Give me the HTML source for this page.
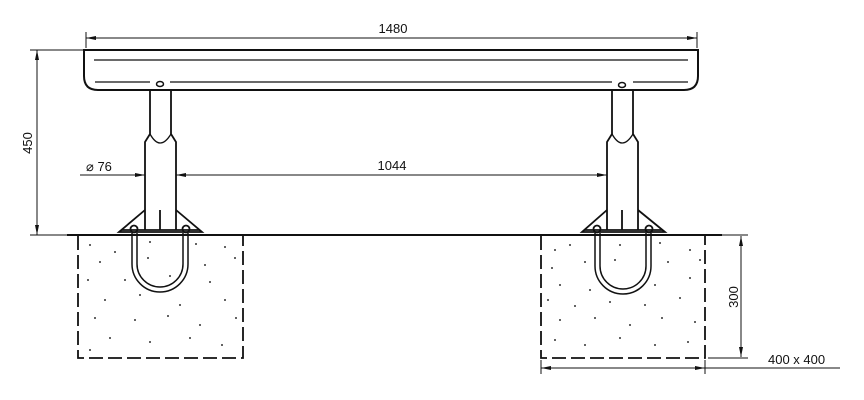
<!DOCTYPE html>
<html><head><meta charset="utf-8"><style>html,body{margin:0;padding:0;background:#fff}svg{display:block}</style></head>
<body>
<svg width="864" height="400" viewBox="0 0 864 400" xmlns="http://www.w3.org/2000/svg" font-family="Liberation Sans, sans-serif" fill="none" stroke="#111">
<defs>
<marker id="a" viewBox="0 0 10 4" refX="10" refY="2" markerWidth="10" markerHeight="4" orient="auto-start-reverse" markerUnits="userSpaceOnUse"><path d="M0,0 L10,2 L0,4z" fill="#111" stroke="none"/></marker>
</defs>
<path d="M84,50 H698 V76 Q698,90 684,90 H98 Q84,90 84,76 Z" stroke-width="2"/>
<line x1="94" y1="60" x2="688" y2="60" stroke-width="1.2"/>
<line x1="95" y1="82" x2="150" y2="82" stroke-width="1.2"/><line x1="170" y1="82" x2="612" y2="82" stroke-width="1.2"/><line x1="633" y1="82" x2="688" y2="82" stroke-width="1.2"/>
<ellipse cx="160" cy="84" rx="3.5" ry="2.5" stroke-width="1.5"/>
<ellipse cx="622" cy="85" rx="3.5" ry="2.5" stroke-width="1.5"/>
<line x1="86" y1="32" x2="86" y2="48" stroke-width="1"/><line x1="697" y1="32" x2="697" y2="48" stroke-width="1"/>
<line x1="86" y1="38" x2="697" y2="38" stroke-width="1" marker-start="url(#a)" marker-end="url(#a)"/>
<text x="393" y="33" font-size="13" fill="#111" stroke="none" text-anchor="middle">1480</text>
<g stroke-width="1.8">
<path d="M150,90 V134 L145,142 V230 M171,90 V134 L176,142 V230"/>
<path d="M150,134 Q160,152 171,134" stroke-width="1.3"/>
<line x1="160" y1="210" x2="160" y2="230"/>
<path d="M612,90 V134 L607,142 V230 M633,90 V134 L638,142 V230"/>
<path d="M612,134 Q622,152 633,134" stroke-width="1.3"/>
<line x1="622" y1="210" x2="622" y2="230"/>
<path d="M145,210 L119,232 H202 L176,210"/><line x1="121" y1="230" x2="200" y2="230"/>
<circle cx="134" cy="229" r="3.5"/><circle cx="186" cy="229" r="3.5"/>
<path d="M607,210 L582,232 H665 L638,210"/><line x1="584" y1="230" x2="663" y2="230"/>
<circle cx="597" cy="229" r="3.5"/><circle cx="649" cy="229" r="3.5"/>
</g>
<line x1="67" y1="235" x2="722" y2="235" stroke-width="2"/>
<g stroke-width="1.8" stroke-dasharray="14 5">
<path d="M78,236 V358 H243 V236"/>
<path d="M541,236 V358 H705 V236"/>
</g>
<g stroke-width="1.5">
<path d="M132,233 V264 A28,28 0 0 0 188,264 V233"/><path d="M137,233 V264 A23,23 0 0 0 183,264 V233"/>
<path d="M595,233 V266 A28,28 0 0 0 651,266 V233"/><path d="M600,233 V266 A23,23 0 0 0 646,266 V233"/>
</g>
<g fill="#333" stroke="none">
<circle cx="90" cy="245" r="1"/><circle cx="115" cy="252" r="1"/><circle cx="150" cy="242" r="1"/><circle cx="196" cy="244" r="1"/><circle cx="225" cy="247" r="1"/>
<circle cx="100" cy="262" r="1"/><circle cx="148" cy="258" r="1"/><circle cx="205" cy="265" r="1"/><circle cx="235" cy="258" r="1"/>
<circle cx="88" cy="280" r="1"/><circle cx="125" cy="280" r="1"/><circle cx="170" cy="276" r="1"/><circle cx="210" cy="282" r="1"/>
<circle cx="105" cy="300" r="1"/><circle cx="140" cy="295" r="1"/><circle cx="180" cy="305" r="1"/><circle cx="225" cy="300" r="1"/>
<circle cx="95" cy="318" r="1"/><circle cx="135" cy="320" r="1"/><circle cx="168" cy="316" r="1"/><circle cx="200" cy="325" r="1"/><circle cx="236" cy="318" r="1"/>
<circle cx="110" cy="338" r="1"/><circle cx="150" cy="342" r="1"/><circle cx="190" cy="338" r="1"/><circle cx="222" cy="345" r="1"/><circle cx="90" cy="350" r="1"/>
<circle cx="555" cy="250" r="1"/><circle cx="570" cy="245" r="1"/><circle cx="620" cy="245" r="1"/><circle cx="660" cy="243" r="1"/><circle cx="690" cy="250" r="1"/>
<circle cx="552" cy="268" r="1"/><circle cx="585" cy="262" r="1"/><circle cx="615" cy="260" r="1"/><circle cx="668" cy="262" r="1"/><circle cx="700" cy="260" r="1"/>
<circle cx="560" cy="285" r="1"/><circle cx="590" cy="290" r="1"/><circle cx="655" cy="285" r="1"/><circle cx="690" cy="278" r="1"/>
<circle cx="548" cy="300" r="1"/><circle cx="575" cy="306" r="1"/><circle cx="610" cy="302" r="1"/><circle cx="645" cy="305" r="1"/><circle cx="680" cy="298" r="1"/>
<circle cx="560" cy="320" r="1"/><circle cx="595" cy="318" r="1"/><circle cx="630" cy="325" r="1"/><circle cx="662" cy="318" r="1"/><circle cx="695" cy="322" r="1"/>
<circle cx="555" cy="340" r="1"/><circle cx="585" cy="345" r="1"/><circle cx="620" cy="338" r="1"/><circle cx="655" cy="345" r="1"/><circle cx="688" cy="342" r="1"/>
</g>
<line x1="30" y1="50" x2="84" y2="50" stroke-width="1"/><line x1="30" y1="235" x2="67" y2="235" stroke-width="1"/>
<line x1="37" y1="50" x2="37" y2="235" stroke-width="1" marker-start="url(#a)" marker-end="url(#a)"/>
<text transform="translate(32,143) rotate(-90)" font-size="13" fill="#111" stroke="none" text-anchor="middle">450</text>
<line x1="80" y1="175" x2="145" y2="175" stroke-width="1" marker-end="url(#a)"/>
<line x1="176" y1="175" x2="607" y2="175" stroke-width="1" marker-start="url(#a)" marker-end="url(#a)"/>
<text x="86" y="171" font-size="13" fill="#111" stroke="none">⌀ 76</text>
<text x="392" y="170" font-size="13" fill="#111" stroke="none" text-anchor="middle">1044</text>
<line x1="708" y1="235" x2="748" y2="235" stroke-width="1"/><line x1="708" y1="358" x2="748" y2="358" stroke-width="1"/>
<line x1="741" y1="236" x2="741" y2="357" stroke-width="1" marker-start="url(#a)" marker-end="url(#a)"/>
<text transform="translate(738,297) rotate(-90)" font-size="13" fill="#111" stroke="none" text-anchor="middle">300</text>
<line x1="541" y1="360" x2="541" y2="374" stroke-width="1"/><line x1="705" y1="360" x2="705" y2="374" stroke-width="1"/>
<line x1="541" y1="368" x2="705" y2="368" stroke-width="1" marker-start="url(#a)" marker-end="url(#a)"/>
<line x1="705" y1="368" x2="840" y2="368" stroke-width="1"/>
<text x="768" y="364" font-size="13" fill="#111" stroke="none">400  x 400</text>
</svg>
</body></html>
